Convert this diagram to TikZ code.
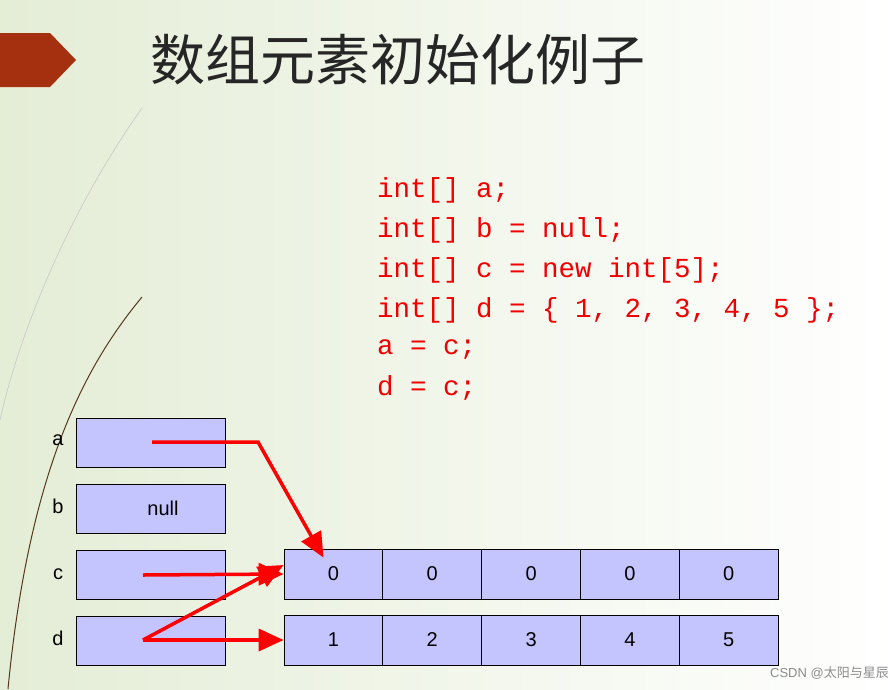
\documentclass[tikz,border=0pt]{standalone}
\usepackage{fontspec}
\setmainfont{Liberation Sans}
\newfontfamily\cjk{Noto Sans CJK SC}
\newfontfamily\codefont{Liberation Mono}
\usetikzlibrary{arrows.meta}
\definecolor{boxfill}{HTML}{C4C4FF}
\definecolor{codered}{HTML}{F00000}
\definecolor{titlegray}{HTML}{262626}
\definecolor{bannerred}{HTML}{A5300F}
\definecolor{bgleft}{HTML}{E4EDD6}
\tikzset{
  cell/.style={draw=black, line width=0.8pt, fill=boxfill, minimum width=99pt, minimum height=50pt, inner sep=0pt, font=\fontsize{20}{20}\selectfont},
  vbox/.style={draw=black, line width=0.8pt, fill=boxfill, minimum width=149pt, minimum height=49pt, inner sep=0pt, font=\fontsize{20}{20}\selectfont},
  vlab/.style={font=\fontsize{20}{20}\selectfont},
  ptr/.style={draw=red, line width=3.5pt, -{Triangle[length=25pt,width=22pt]}},
  codeline/.style={anchor=west, text=codered, font=\codefont\fontsize{27.5}{27.5}\selectfont, inner sep=0pt}
}
\begin{document}
\begin{tikzpicture}[x=1pt,y=-1pt]
\useasboundingbox (0,0) rectangle (894,689);
\shade[left color=bgleft, right color=white] (0,0) rectangle (894,689);
% decorative curves
\draw[color=black!20, line width=0.7pt] (142,108) .. controls (70,210) and (20,330) .. (0,420);
\draw[color=black!55!brown, line width=1pt] (142,297) .. controls (90,360) and (30,460) .. (8,689);
% banner
\fill[bannerred] (0,33) -- (50,33) -- (76,60) -- (50,87) -- (0,87) -- cycle;
\node[anchor=west, text=titlegray, font=\cjk\fontsize{55}{55}\selectfont, inner sep=0pt] (title) at (150,60) {数组元素初始化例子};
% code
\node[codeline] (l1) at (377,190) {int[] a;};
\node[codeline] (l2) at (377,230) {int[] b = null;};
\node[codeline] (l3) at (377,270) {int[] c = new int[5];};
\node[codeline] (l4) at (377,310) {int[] d = \{ 1, 2, 3, 4, 5 \};};
\node[codeline] (l5) at (377,350) {a = c;};
\node[codeline] (l6) at (377,388) {d = c;};
% variable boxes
\node[vbox] (a) at (150.5,442.5) {};
\node[vbox] (b) at (150.5,508.5) {\hspace*{25pt}null};
\node[vbox] (c) at (150.5,574.5) {};
\node[vbox] (d) at (150.5,640.5) {};
\node[vlab] (la) at (58,440) {a};
\node[vlab] (lb) at (58,506) {b};
\node[vlab] (lc) at (58,574) {c};
\node[vlab] (ld) at (58,638) {d};
% arrays
\foreach \i/\v in {0/0,1/0,2/0,3/0,4/0} {
  \node[cell] (c\i) at ({333.5+98.8*\i},574) {\v};
}
\foreach \i/\v in {0/1,1/2,2/3,3/4,4/5} {
  \node[cell] (d\i) at ({333.5+98.8*\i},640) {\v};
}
% pointers
\coordinate (as) at (152,442);
\coordinate (ab) at (258,442);
\coordinate (cs) at (143,575);
\coordinate (ds) at (143,640);
\draw[ptr] (as) -- (ab) -- ([xshift=-10pt,yshift=-9pt]c0.north);
\draw[ptr] (cs) -- (c0.west);
\draw[ptr] (ds) -- ([yshift=9pt]c0.west);
\draw[ptr] (ds) -- (d0.west);
\node[anchor=east, text=black!45, font=\fontsize{13}{13}\selectfont, inner sep=0pt] (wm) at (889,673) {CSDN @{\cjk 太阳与星辰}};
\end{tikzpicture}
\end{document}
